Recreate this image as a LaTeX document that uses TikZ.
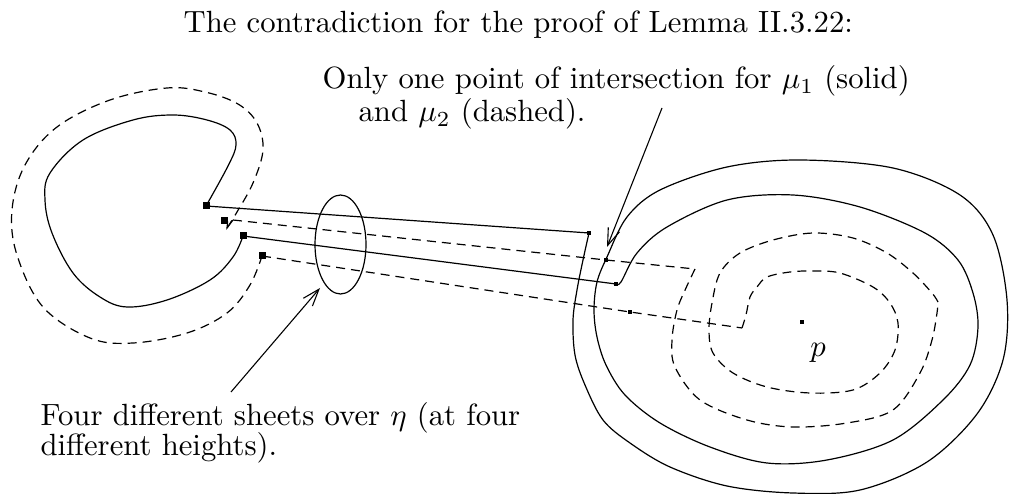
\documentclass[tikz,border=0pt]{standalone}
\usetikzlibrary{arrows.meta}
\tikzset{
  txt/.style={inner sep=0pt, font=\fontsize{10}{12}\selectfont, scale=3.07},
  lbl/.style={txt, anchor=base west},
  bigsq/.style={fill=black, minimum size=7pt, inner sep=0pt},
  smsq/.style={fill=black, minimum size=4.5pt, inner sep=0pt},
  curve/.style={line width=1.2pt},
  dsh/.style={line width=1.2pt, dash pattern=on 9pt off 6pt},
  ptr/.style={line width=1.1pt, -{Straight Barb[length=17pt,width=12pt]}},
}
\begin{document}
\begin{tikzpicture}[x=1pt,y=-1pt]
\useasboundingbox (0,0) rectangle (1010,494);

% texts
\node[lbl] (title) at (183,33) {The contradiction for the proof of Lemma II.3.22:};
\node[lbl] (only1) at (322,89) {Only one point of intersection for $\mu_1$ (solid)};
\node[lbl] (only2) at (358,122) {and $\mu_2$ (dashed).};
\node[lbl] (four1) at (40,425) {Four different sheets over $\eta$ (at four};
\node[lbl] (four2) at (40,455) {different heights).};
\node[txt, anchor=base] (plbl) at (818,357) {$p$};

% squares
\node[bigsq] (S1) at (206,206) {};
\node[bigsq] (S3) at (224,221) {};
\node[bigsq] (S2) at (243,236) {};
\node[bigsq] (S4) at (262,256) {};
\node[smsq] (a1) at (589,233) {};
\node[smsq] (a2) at (616,284) {};
\node[smsq] (m) at (606,260) {};
\node[smsq] (b2) at (630,312) {};
\node[smsq] (p) at (802,322) {};

% left solid C (mu_1)
\draw[curve] plot[smooth, tension=0.6] coordinates {(243,236) (233,257) (210,280) (167,300) (127,307) (100,297) (73,273) (52,233) (45,200) (50,173) (83,140) (133,120) (173,115) (207,120) (230,130) (236,145) (228,166) (206,206)};

% left dashed C (mu_2)
\draw[dsh] plot[smooth, tension=0.6] coordinates {(227,228) (237,212) (253,183) (263,150) (257,123) (238,104) (205,92) (167,88) (110,100) (57,127) (25,165) (12,210) (17,255) (43,307) (90,338) (133,343) (187,333) (227,313) (250,285) (262,256)};
\draw[line width=1.1pt] (S3.east) -- (227,228) -- (233,220);

% straight sheets
\draw[curve] (S1.center) -- (a1.center);
\draw[curve] (S2.center) -- (a2.center);
\draw[dsh] (233,220) -- (m.center) -- (695,269);
\draw[dsh] (S4.center) -- (b2.center) -- (742,328);

% right solid spiral (mu_1)
\draw[curve] plot[smooth, tension=0.55] coordinates {(589,233) (583,260) (577,290) (573,320) (575,355) (585,385) (603,420) (630,443) (670,467) (727,486) (793,493) (860,490) (927,462) (977,414) (1003,360) (1007,300) (993,235) (960,195) (893,168) (800,160) (727,167) (660,190) (627,217) (607,257) (597,282) (594,310) (597,337) (606,365) (625,395) (660,423) (710,447) (767,463) (827,460) (893,440) (943,400) (970,365) (978,327) (973,293) (958,260) (925,233) (860,207) (793,195) (727,200) (667,227) (637,253) (621,282) (616,284)};

% right dashed spiral (mu_2)
\draw[dsh] plot[smooth, tension=0.55] coordinates {(695,269) (686,288) (677,310) (672,340) (675,367) (700,400) (747,420) (793,427) (847,423) (893,410) (920,373) (932,340) (937,313) (938,302)};
\draw[dsh] plot[smooth, tension=0.55] coordinates {(938,302) (932,293) (913,273) (887,253) (853,238) (813,233) (773,240) (740,253) (720,273) (712,303) (709,330) (713,353) (733,373) (767,387) (810,393) (853,390) (880,373) (895,350) (898,323) (890,303) (873,287) (840,273) (813,271) (790,272) (767,277) (757,287) (750,297) (746,315) (742,328)};

% pointers
\coordinate (t1s) at (662,108);
\coordinate (t1e) at (607,247);
\coordinate (t2s) at (231,392);
\coordinate (t2e) at (320,288);
\draw[ptr] (t1s) -- (t1e);
\draw[ptr] (t2s) -- (t2e);

% ellipse eta
\draw[curve] (340.5,244.5) ellipse [x radius=25.5, y radius=49.5];
\end{tikzpicture}
\end{document}
